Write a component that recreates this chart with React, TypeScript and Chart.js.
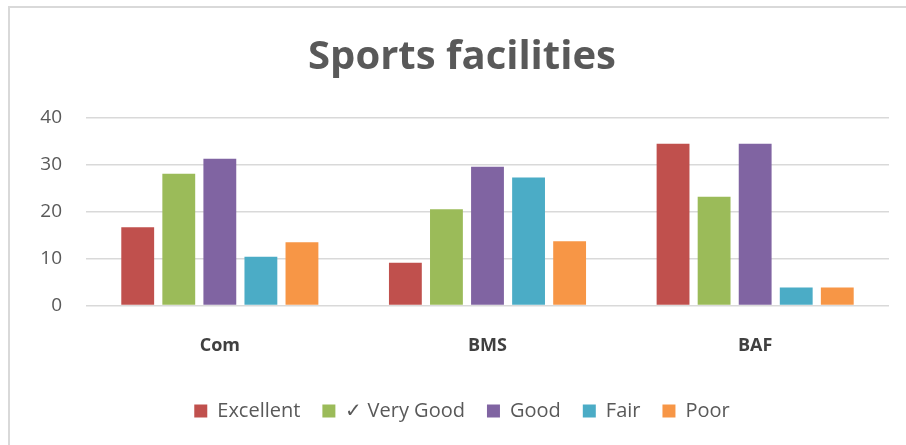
import React, { useEffect, useRef } from "react";
import { Chart, registerables } from "chart.js";

Chart.register(...registerables);

const categories = ["Com", "BMS", "BAF"];
const seriesNames = ["Excellent", "✓ Very Good", "Good", "Fair", "Poor"];
const excellent = [16.7, 9.1, 34.5];
const veryGood = [28.1, 20.5, 23.2];
const good = [31.3, 29.6, 34.5];
const fair = [10.4, 27.3, 3.8];
const poor = [13.5, 13.7, 3.8];
const colors = ["#c0504d", "#9bbb59", "#8064a2", "#4bacc6", "#f79646"];
const yTicks = [0, 10, 20, 30, 40];

const borderPlugin = {
  id: "outerBorder",
  beforeDraw(chart: any) {
    const ctx = chart.ctx;
    ctx.save();
    ctx.fillStyle = "#ffffff";
    ctx.fillRect(0, 0, chart.width, chart.height);
    ctx.strokeStyle = "#d9d9d9";
    ctx.lineWidth = 2;
    ctx.beginPath();
    ctx.moveTo(9, chart.height);
    ctx.lineTo(9, 7);
    ctx.lineTo(chart.width, 7);
    ctx.stroke();
    ctx.restore();
  },
};

export default function App() {
  const ref = useRef<HTMLCanvasElement>(null);
  useEffect(() => {
    if (!ref.current) return;
    const values = [excellent, veryGood, good, fair, poor];
    const chart = new Chart(ref.current, {
      type: "bar",
      data: {
        labels: categories,
        datasets: seriesNames.map((n, i) => ({
          label: n,
          data: values[i],
          backgroundColor: colors[i],
          categoryPercentage: 0.767,
          barPercentage: 0.8,
        })),
      },
      options: {
        animation: false,
        responsive: false,
        layout: { padding: { left: 35, right: 17, top: 0, bottom: 14 } },
        plugins: {
          title: {
            display: true,
            text: "Sports facilities",
            color: "#595959",
            font: { family: "Open Sans", size: 40, weight: "bold" },
            padding: { top: 34, bottom: 36 },
          },
          legend: {
            position: "bottom",
            labels: {
              boxWidth: 13,
              boxHeight: 13,
              color: "#595959",
              font: { family: "Open Sans", size: 20 },
              padding: 22,
            },
          },
          tooltip: { enabled: false },
        },
        scales: {
          x: {
            grid: { display: false },
            border: { display: false },
            ticks: {
              color: "#404040",
              font: { family: "Open Sans", size: 18, weight: "bold" },
              padding: 22,
            },
          },
          y: {
            min: 0,
            max: 40,
            afterFit(scale: any) {
              scale.width = 51;
            },
            afterBuildTicks(scale: any) {
              scale.ticks = yTicks.map((v) => ({ value: v }));
            },
            grid: { color: "#d9d9d9", lineWidth: 1.5, drawTicks: false },
            border: { display: false },
            ticks: {
              color: "#595959",
              font: { family: "Open Sans", size: 19 },
              padding: 24,
            },
          },
        },
      },
      plugins: [borderPlugin],
    });
    return () => chart.destroy();
  }, []);
  return (
    <div style={{ position: "absolute", left: 0, top: 0 }}>
      <canvas ref={ref} width={906} height={445} />
    </div>
  );
}
